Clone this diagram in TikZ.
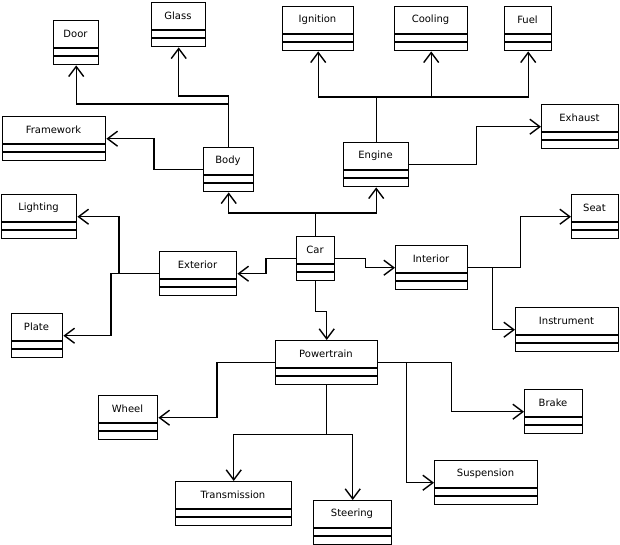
\documentclass[tikz,border=0pt]{standalone}
\usepackage{fontspec}
\setmainfont{DejaVu Sans}
\usetikzlibrary{arrows.meta}
\newcommand\cls[5]{%
  \node[draw,line width=1.4pt,minimum width=#4-#3,minimum height=44pt,anchor=north west,inner sep=0pt] (#1) at (#3,#2) {};
  \node[font=\fontsize{10}{12}\selectfont,anchor=center] (#1-t) at ($(#3,#2)!0.5!(#4,#2)+(0,14)$) {#5};
  \draw[line width=1.4pt] (#3,#2+28) -- (#4,#2+28) (#3,#2+36) -- (#4,#2+36);}
\usetikzlibrary{calc}
\tikzset{conn/.style={line width=1.4pt,-{Straight Barb[length=10pt,width=15pt,line width=1.4pt]}}}
\begin{document}
\begin{tikzpicture}[x=1pt,y=-1pt]
\useasboundingbox (0,0) rectangle (620,545);
\cls{glass}{2}{151}{205}{Glass}
\cls{door}{20}{53}{98}{Door}
\cls{ignition}{6}{282}{353}{Ignition}
\cls{cooling}{6}{394}{467}{Cooling}
\cls{fuel}{6}{504}{551}{Fuel}
\cls{framework}{116}{2}{105}{Framework}
\cls{body}{147}{203}{253}{Body}
\cls{engine}{142}{343}{408}{Engine}
\cls{exhaust}{104}{541}{618}{Exhaust}
\cls{lighting}{194}{1}{76}{Lighting}
\cls{seat}{194}{571}{618}{Seat}
\cls{exterior}{251}{159}{236}{Exterior}
\cls{car}{236}{296}{334}{Car}
\cls{interior}{245}{395}{467}{Interior}
\cls{plate}{313}{11}{62}{Plate}
\cls{instrument}{307}{515}{618}{Instrument}
\cls{powertrain}{340}{275}{377}{Powertrain}
\cls{wheel}{395}{98}{157}{Wheel}
\cls{brake}{389}{524}{582}{Brake}
\cls{suspension}{460}{434}{537}{Suspension}
\cls{transmission}{481}{175}{291}{Transmission}
\cls{steering}{500}{313}{391}{Steering}
\draw[conn] (car.north) -- ++(0,-23) -| (body.south);
\draw[conn] (car.north) -- ++(0,-23) -| (engine.south);
\draw[conn] (car.west) -- ++(-30,0) |- (exterior.east);
\draw[conn] (car.east) -- ++(30,0) |- (interior.west);
\draw[conn] (car.south) -- ++(0,30) -| (powertrain.north);
\draw[conn] (body.north) -- ++(0,-43) -| (door.south);
\draw[conn] (body.north) -- ++(0,-51) -| (glass.south);
\draw[conn] (body.west) -- ++(-49,0) |- (framework.east);
\draw[conn] (engine.north) -- ++(0,-45) -| (ignition.south);
\draw[conn] (engine.north) -- ++(0,-45) -| (cooling.south);
\draw[conn] (engine.north) -- ++(0,-45) -| (fuel.south);
\draw[conn] (engine.east) -- ++(67,0) |- (exhaust.west);
\draw[conn] (exterior.west) -- ++(-40,0) |- (lighting.east);
\draw[conn] (exterior.west) -- ++(-48,0) |- (plate.east);
\draw[conn] (interior.east) -- ++(52,0) |- (seat.west);
\draw[conn] (interior.east) -- ++(24,0) |- (instrument.west);
\draw[conn] (powertrain.west) -- ++(-58,0) |- (wheel.east);
\draw[conn] (powertrain.east) -- ++(73,0) |- (brake.west);
\draw[conn] (powertrain.east) -- ++(28,0) |- (suspension.west);
\draw[conn] (powertrain.south) -- ++(0,49) -| (transmission.north);
\draw[conn] (powertrain.south) -- ++(0,49) -| (steering.north);
\end{tikzpicture}
\end{document}
